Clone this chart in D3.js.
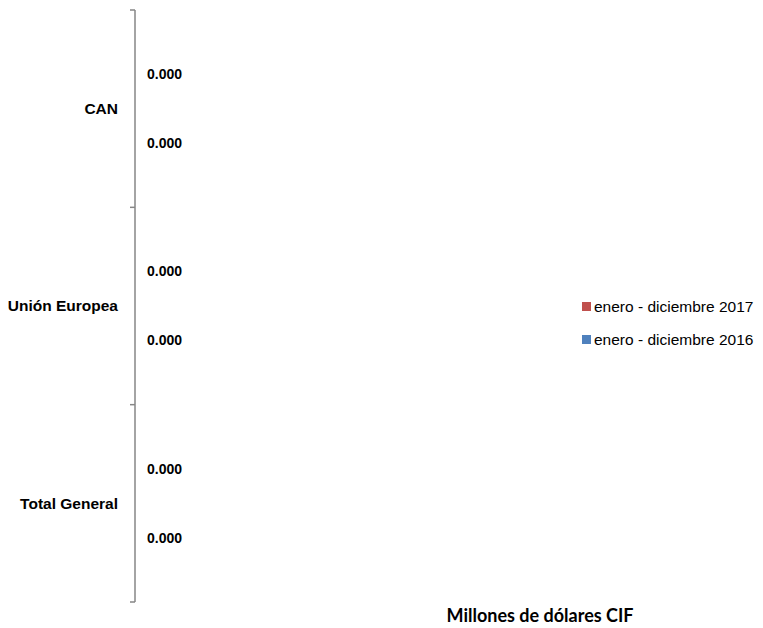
<!DOCTYPE html>
<html><head><meta charset="utf-8">
<script src="https://cdn.jsdelivr.net/npm/d3@7"></script>
<style>body{margin:0;background:#fff}svg{display:block}</style>
</head><body>
<script>
const categories = ["CAN", "Unión Europea", "Total General"];
const seriesNames = ["enero - diciembre 2017", "enero - diciembre 2016"];
const values2017 = [0, 0, 0];
const values2016 = [0, 0, 0];
const seriesColors = ["#C0504D", "#4F81BD"];
const axisTitle = "Millones de dólares CIF";

const W = 763, H = 628;
const sans = "'Liberation Sans',Arial,sans-serif";
const svg = d3.select("body").append("svg").attr("width", W).attr("height", H);

const yTop = 10, yBottom = 602, xLeft = 135, xRight = 560;
const y = d3.scaleBand().domain(categories).range([yTop, yBottom]).paddingInner(0).paddingOuter(0);
const bw = y.bandwidth();
const yi = d3.scaleBand().domain(seriesNames).range([bw * 0.15, bw * 0.85]);
const x = d3.scaleLinear().domain([0, 1]).range([xLeft, xRight]);

const data = [];
categories.forEach((c, i) => {
  data.push({cat: c, s: seriesNames[0], v: values2017[i], color: seriesColors[0]});
  data.push({cat: c, s: seriesNames[1], v: values2016[i], color: seriesColors[1]});
});

svg.append("g").selectAll("rect").data(data).join("rect")
  .attr("x", x(0)).attr("y", d => y(d.cat) + yi(d.s) + yi.bandwidth() * 0.2)
  .attr("width", d => x(d.v) - x(0)).attr("height", yi.bandwidth() * 0.6)
  .attr("fill", d => d.color);

svg.append("g").selectAll("text").data(data).join("text")
  .attr("x", d => x(d.v) + 12).attr("y", d => y(d.cat) + yi(d.s) + yi.bandwidth() / 2)
  .attr("dy", "0.35em")
  .style("font-family", sans).style("font-weight", "bold").style("font-size", "14px")
  .attr("fill", "#000")
  .text(d => d3.format(".3f")(d.v));

const yAxis = d3.axisLeft(y).tickSize(0).tickPadding(0).tickFormat("");
const ga = svg.append("g").attr("transform", `translate(${xLeft},0)`).call(yAxis);
ga.select(".domain").remove();
ga.append("line").attr("x1", 0).attr("x2", 0).attr("y1", yTop).attr("y2", yBottom)
  .attr("stroke", "#868686").attr("stroke-width", 1.5);
const bounds = [yTop, ...categories.slice(1).map(c => y(c)), yBottom];
ga.selectAll("line.bt").data(bounds).join("line").attr("class", "bt")
  .attr("x1", -5).attr("x2", 0).attr("y1", d => d).attr("y2", d => d)
  .attr("stroke", "#868686").attr("stroke-width", 1.5);

svg.append("g").selectAll("text").data(categories).join("text")
  .attr("x", 118).attr("y", d => y(d) + bw / 2).attr("dy", "0.35em")
  .attr("text-anchor", "end")
  .style("font-family", sans).style("font-weight", "bold").style("font-size", "15.5px")
  .text(d => d);

const lg = svg.append("g").attr("transform", "translate(582,0)");
const ly = [306.5, 339.5];
seriesNames.forEach((s, i) => {
  lg.append("rect").attr("x", 0).attr("y", ly[i] - 4.5).attr("width", 9).attr("height", 9).attr("fill", seriesColors[i]);
  lg.append("text").attr("x", 12).attr("y", ly[i]).attr("dy", "0.35em")
    .style("font-family", sans).style("font-size", "15.5px").text(s);
});

svg.append("text").attr("x", 540).attr("y", 616).attr("dy", "0.35em").attr("text-anchor", "middle")
  .style("font-family", "Lato,'Open Sans',sans-serif").style("font-weight", "bold").style("font-size", "18px")
  .text(axisTitle);
</script>
</body></html>
